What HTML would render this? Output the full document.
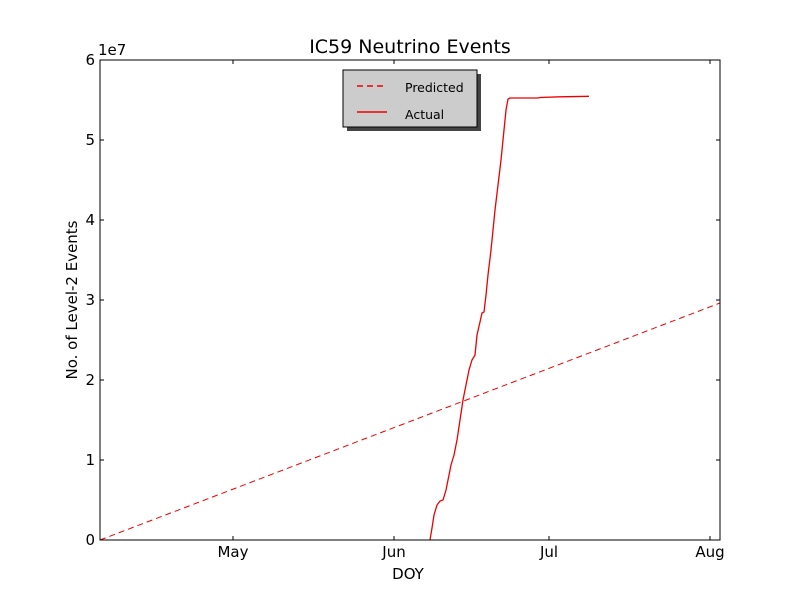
<!DOCTYPE html>
<html><head><meta charset="utf-8"><style>
body{margin:0;background:#fff;}
svg{display:block;font-family:"DejaVu Sans","Liberation Sans",sans-serif;}
</style></head><body>
<svg width="800" height="600" xmlns="http://www.w3.org/2000/svg">
<rect width="800" height="600" fill="#fff"/>
<text x="410" y="53" font-size="19" text-anchor="middle">IC59 Neutrino Events</text>
<line x1="100" y1="540" x2="720" y2="303" stroke="#e00" stroke-width="1" stroke-dasharray="6,4"/>
<polyline fill="none" stroke="#e00" stroke-width="1.3" points="430,540 432,528 434,515 437,505 440,501 443,500 446,490 449,475 451,465 454,455 457,440 460,420 463,400 466,385 469,370 472,360 475,355 477,335 480,322 482,313 484,312 486,295 488,275 491,250 493,230 495,210 498,185 501,160 504,130 506,110 508,99 510,98 538,98 540,97.5 560,96.8 589,96.3"/>
<rect x="100" y="60" width="620" height="480" fill="none" stroke="#000" stroke-width="1"/>
<g stroke="#000" stroke-width="1">
<line x1="100" y1="460" x2="104" y2="460"/><line x1="716" y1="460" x2="720" y2="460"/>
<line x1="100" y1="380" x2="104" y2="380"/><line x1="716" y1="380" x2="720" y2="380"/>
<line x1="100" y1="300" x2="104" y2="300"/><line x1="716" y1="300" x2="720" y2="300"/>
<line x1="100" y1="220" x2="104" y2="220"/><line x1="716" y1="220" x2="720" y2="220"/>
<line x1="100" y1="140" x2="104" y2="140"/><line x1="716" y1="140" x2="720" y2="140"/>
<line x1="233" y1="540" x2="233" y2="536"/><line x1="233" y1="60" x2="233" y2="64"/>
<line x1="394" y1="540" x2="394" y2="536"/><line x1="394" y1="60" x2="394" y2="64"/>
<line x1="549" y1="540" x2="549" y2="536"/><line x1="549" y1="60" x2="549" y2="64"/>
<line x1="710" y1="540" x2="710" y2="536"/><line x1="710" y1="60" x2="710" y2="64"/>
</g>
<g font-size="15" text-anchor="end">
<text x="95" y="545">0</text><text x="95" y="465">1</text><text x="95" y="385">2</text>
<text x="95" y="305">3</text><text x="95" y="225">4</text><text x="95" y="145">5</text><text x="95" y="65">6</text>
</g>
<text x="98" y="55" font-size="15">1e7</text>
<g font-size="15" text-anchor="middle">
<text x="233" y="557">May</text><text x="394" y="557">Jun</text><text x="549" y="557">Jul</text><text x="710" y="557">Aug</text>
</g>
<text x="408" y="579" font-size="15" text-anchor="middle">DOY</text>
<text transform="translate(77,300) rotate(-90)" font-size="15" text-anchor="middle">No. of Level-2 Events</text>
<rect x="347" y="74" width="134" height="57" fill="#444"/>
<rect x="343" y="70" width="134" height="57" fill="#ccc" stroke="#000" stroke-width="1"/>
<line x1="357" y1="86" x2="387" y2="86" stroke="#e00" stroke-width="1.5" stroke-dasharray="6,4"/>
<line x1="357" y1="112" x2="387" y2="112" stroke="#e00" stroke-width="1.5"/>
<text x="405" y="92" font-size="12.5">Predicted</text>
<text x="405" y="119" font-size="12.5">Actual</text>
</svg>
</body></html>
